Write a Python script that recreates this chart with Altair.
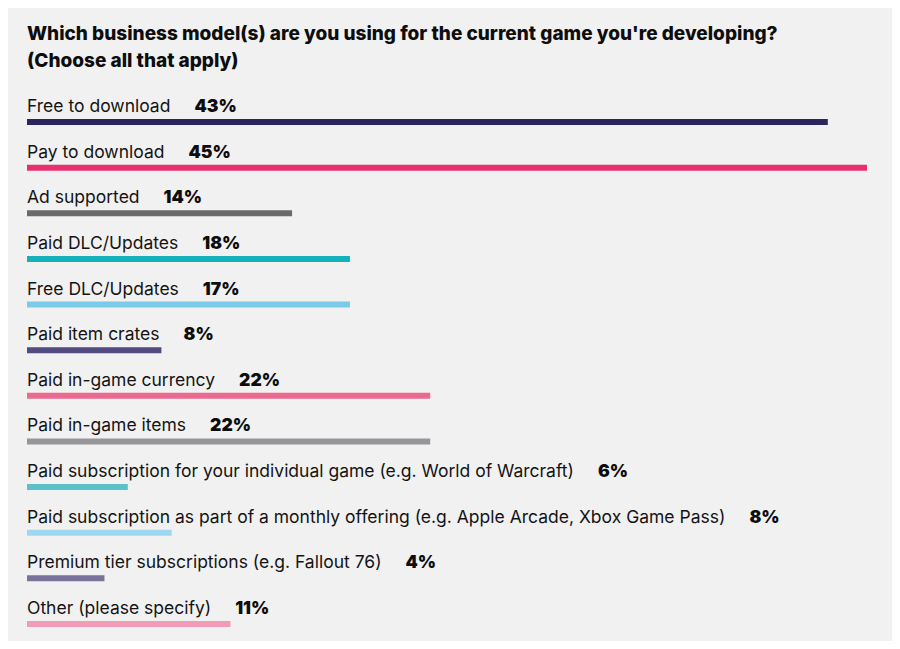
import altair as alt
import pandas as pd

title_lines = [
    "Which business model(s) are you using for the current game you're developing?",
    "(Choose all that apply)",
]
categories = [
    "Free to download",
    "Pay to download",
    "Ad supported",
    "Paid DLC/Updates",
    "Free DLC/Updates",
    "Paid item crates",
    "Paid in-game currency",
    "Paid in-game items",
    "Paid subscription for your individual game (e.g. World of Warcraft)",
    "Paid subscription as part of a monthly offering (e.g. Apple Arcade, Xbox Game Pass)",
    "Premium tier subscriptions (e.g. Fallout 76)",
    "Other (please specify)",
]
values = [42.9, 45.0, 14.2, 17.3, 17.3, 7.2, 21.6, 21.6, 5.4, 7.75, 4.15, 10.9]
pct_labels = ["43%", "45%", "14%", "18%", "17%", "8%", "22%", "22%", "6%", "8%", "4%", "11%"]
colors = [
    "#29255f", "#e8306e", "#6a6a6d", "#14b1bd", "#7acbe8", "#524a80",
    "#ec6a90", "#95959a", "#5cc0c8", "#a0d7f0", "#7a7299", "#f29bb6",
]

FONT = "Inter"
LABEL_SIZE = 17.5
GAP = 24


def text_width(s, size, bold=False):
    try:
        import subprocess
        from PIL import ImageFont
        pat = FONT + (":bold" if bold else ":regular")
        path = subprocess.run(["fc-match", "-f", "%{file}", pat],
                              capture_output=True, text=True).stdout.strip()
        f = ImageFont.truetype(path, size)
        return float(f.getlength(s))
    except Exception:
        w = {
            " ": 0.28, "a": 0.55, "b": 0.61, "c": 0.55, "d": 0.61, "e": 0.57, "f": 0.36,
            "g": 0.61, "h": 0.59, "i": 0.24, "j": 0.24, "k": 0.53, "l": 0.24, "m": 0.88,
            "n": 0.59, "o": 0.58, "p": 0.61, "q": 0.61, "r": 0.37, "s": 0.51, "t": 0.35,
            "u": 0.59, "v": 0.54, "w": 0.79, "x": 0.53, "y": 0.54, "z": 0.53,
            "(": 0.33, ")": 0.33, ".": 0.27, "/": 0.33, "-": 0.37, ",": 0.27, "'": 0.2,
        }
        total = 0.0
        for ch in s:
            if ch in w:
                total += w[ch]
            elif ch.isupper():
                total += 0.68
            elif ch.isdigit():
                total += 0.6
            else:
                total += 0.55
        return total * size


df = pd.DataFrame({
    "cat": categories,
    "value": values,
    "pct": pct_labels,
    "color": colors,
})
df["pct_x"] = [text_width(c, LABEL_SIZE) + GAP for c in categories]

y_enc = alt.Y("cat:N", sort=categories, axis=None,
              scale=alt.Scale(type="point", padding=0.2))

bars = alt.Chart(df).mark_bar(height=6, cornerRadius=0).encode(
    x=alt.X("value:Q", axis=None, scale=alt.Scale(domain=[0, 45], nice=False)),
    y=y_enc,
    color=alt.Color("color:N", scale=None, legend=None),
)

labels = alt.Chart(df).mark_text(
    align="left", baseline="alphabetic", dy=-10, font=FONT,
    fontSize=LABEL_SIZE, color="#141414",
).encode(
    x=alt.value(0),
    y=y_enc,
    text="cat:N",
)

pcts = alt.Chart(df).mark_text(
    align="left", baseline="alphabetic", dy=-10, font=FONT,
    fontSize=LABEL_SIZE, fontWeight=900, color="#0d0d0d",
).encode(
    x=alt.X("pct_x:Q", scale=None, axis=None),
    y=y_enc,
    text="pct:N",
)

chart = alt.layer(bars, labels, pcts).resolve_scale(x="independent").properties(
    width=840,
    height=520,
    padding={"left": 19, "top": 105, "right": 25, "bottom": 8},
    autosize=alt.AutoSizeParams(type="none"),
    background="#f1f1f1",
    title=alt.TitleParams(
        text=title_lines,
        anchor="start",
        frame="group",
        font=FONT,
        fontSize=19,
        fontWeight=800,
        lineHeight=27,
        color="#0d0d0d",
        offset=27,
    ),
).configure_view(stroke=None)

chart.save("out.html", embed_options={"renderer": "svg", "actions": False})
